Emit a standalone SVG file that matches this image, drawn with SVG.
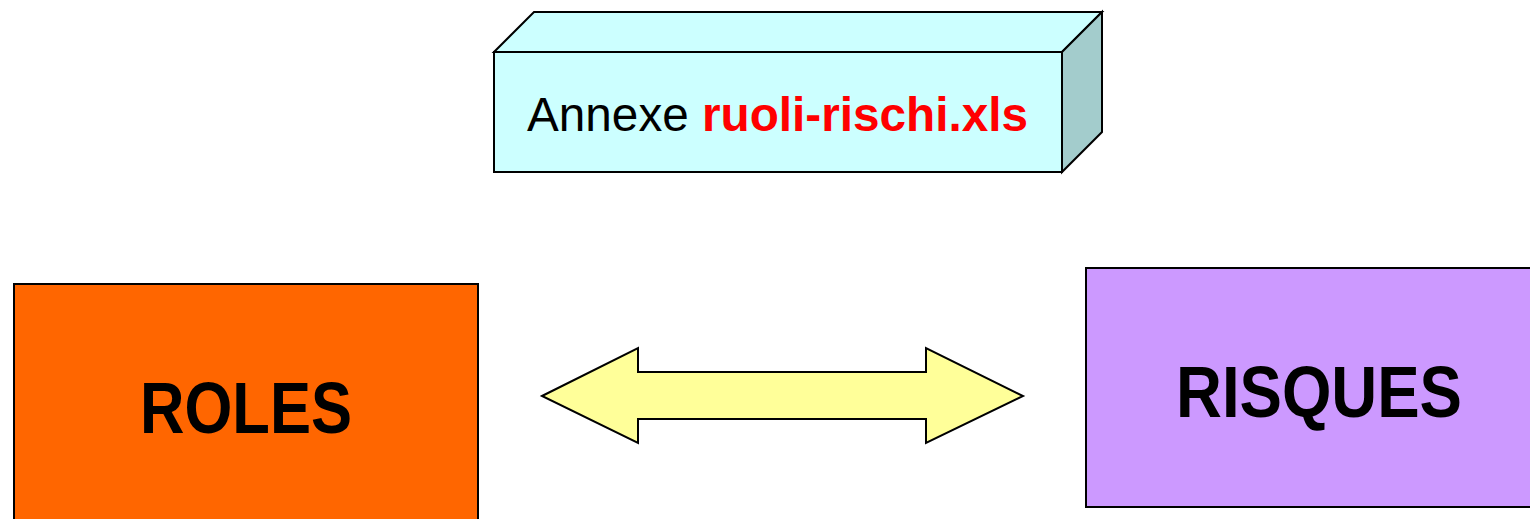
<svg xmlns="http://www.w3.org/2000/svg" width="1530" height="519" viewBox="0 0 1530 519">
<style>
.ln{stroke:#000;stroke-width:2;stroke-linejoin:miter}
.big{font-family:"Liberation Sans",Arial,sans-serif;font-weight:bold;font-size:72px;fill:#000;text-anchor:middle}
.ann{font-family:"Liberation Sans",Arial,sans-serif;font-size:48px}
</style>
<rect width="1530" height="519" fill="#fff"/>
<g id="annexe">
<polygon class="ln" points="494,52 534,12 1102,12 1062,52" fill="#CCFFFF"/>
<polygon class="ln" points="1062,52 1102,12 1102,132 1062,172" fill="#A3CCCC"/>
<rect class="ln" x="494" y="52" width="568" height="120" fill="#CCFFFF"/>
<text class="ann" x="527" y="131" textLength="501" lengthAdjust="spacingAndGlyphs"><tspan fill="#000">Annexe </tspan><tspan fill="#FF0000" font-weight="bold">ruoli-rischi.xls</tspan></text>
</g>
<g id="roles">
<rect class="ln" x="14" y="284" width="464" height="245" fill="#FF6600"/>
<text class="big" x="246" y="433" textLength="212" lengthAdjust="spacingAndGlyphs">ROLES</text>
</g>
<g id="risques">
<rect class="ln" x="1086" y="268" width="454" height="239" fill="#CC99FF"/>
<text class="big" x="1319" y="417" textLength="286" lengthAdjust="spacingAndGlyphs">RISQUES</text>
</g>
<g id="connectors">
<polygon class="ln" points="542,396 638,348 638,372 926,372 926,348 1023,396 926,443 926,419 638,419 638,443" fill="#FFFF99"/>
</g>
</svg>
